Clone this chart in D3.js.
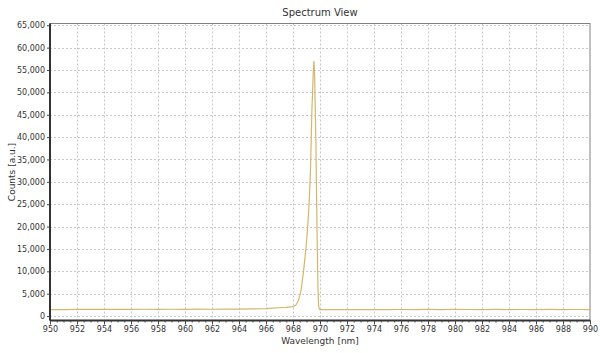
<!DOCTYPE html>
<html>
<head>
<meta charset="utf-8">
<script src="https://cdn.jsdelivr.net/npm/d3@7"></script>
<style>
  body { margin: 0; background: #fff; }
  svg { display: block; font-family: "DejaVu Sans", sans-serif; }
</style>
</head>
<body>
<svg id="chart" width="600" height="353"></svg>
<script>
// spectrum samples (nm, counts)
var wavelength = [950, 951, 952, 953, 954, 955, 956, 957, 958, 959, 960, 961, 962, 963, 964, 965,
  966, 966.5, 967, 967.5, 968, 968.2, 968.4, 968.6, 968.8, 969.0, 969.1, 969.2, 969.3, 969.4,
  969.45, 969.5, 969.55, 969.6, 969.65, 969.7, 969.75, 969.8, 969.85, 969.9, 969.95, 970,
  971, 972, 973, 974, 975, 976, 977, 978, 979, 980, 981, 982, 983, 984, 985, 986, 987, 988, 989, 990];
var counts = [1450, 1420, 1480, 1500, 1470, 1520, 1490, 1510, 1480, 1520, 1500, 1530, 1510, 1540, 1560, 1580,
  1650, 1750, 1850, 1950, 2100, 2400, 3400, 5800, 10500, 16500, 20500, 25500, 33000, 46000,
  50000, 54500, 57000, 54000, 46000, 38000, 26000, 15000, 6000, 2200, 1600, 1450,
  1420, 1440, 1410, 1450, 1430, 1460, 1440, 1470, 1450, 1480, 1460, 1450, 1470, 1440, 1460, 1450, 1470, 1440, 1460, 1450];

var xTicks = d3.range(950, 991, 2);
var xMinor = d3.range(950, 990.01, 0.5);
var yTicks = d3.range(0, 65001, 5000);

var svg = d3.select("#chart");
var plotL = 50, plotR = 590, plotT = 23.5, plotB = 320.5;

var x = d3.scaleLinear().domain([950, 990]).range([plotL, plotR]);
var y = d3.scaleLinear().domain([-1000, 65400]).range([plotB, plotT]);

// grid
svg.append("g").selectAll("line").data(xTicks.slice(1, -1)).enter().append("line")
  .attr("x1", d => Math.round(x(d)) + 0.5).attr("x2", d => Math.round(x(d)) + 0.5)
  .attr("y1", plotT).attr("y2", plotB)
  .style("stroke", "#c8c8c8").style("stroke-dasharray", "2,2");
svg.append("g").selectAll("line").data(yTicks).enter().append("line")
  .attr("y1", d => Math.round(y(d)) + 0.5).attr("y2", d => Math.round(y(d)) + 0.5)
  .attr("x1", plotL).attr("x2", plotR)
  .style("stroke", "#c8c8c8").style("stroke-dasharray", "2,2");

// frame
svg.append("rect").attr("x", plotL).attr("y", plotT).attr("width", plotR - plotL).attr("height", plotB - plotT)
  .style("fill", "none").style("stroke", "#808080");

// spectrum
var line = d3.line().x((d, i) => x(wavelength[i])).y(d => y(d));
svg.append("path").datum(counts).attr("d", line)
  .style("fill", "none").style("stroke", "#d4b76c").style("stroke-width", 1.2);

// x axis
var xAxis = svg.append("g").attr("transform", "translate(0," + plotB + ")")
  .call(d3.axisBottom(x).tickValues(xTicks).tickSize(4).tickPadding(2).tickFormat(d3.format("d")));
svg.append("g").attr("class", "minor").attr("transform", "translate(0," + plotB + ")")
  .call(d3.axisBottom(x).tickValues(xMinor).tickSize(2).tickFormat(""))
  .select(".domain").remove();

// y axis
var yAxis = svg.append("g").attr("transform", "translate(" + plotL + ",0)")
  .call(d3.axisLeft(y).tickValues(yTicks).tickSize(3).tickPadding(2).tickFormat(d3.format(",")));

svg.selectAll(".tick line").style("stroke", "#444");
svg.selectAll(".domain").style("stroke", "#333").style("stroke-width", 2);
xAxis.select(".domain").attr("d", "M" + plotL + ",0H" + plotR);
yAxis.select(".domain").attr("d", "M0," + plotB + "V" + plotT);
svg.selectAll(".tick text").style("font-size", "8px").style("fill", "#333").style("font-family", "DejaVu Sans");

// titles
svg.append("text").attr("x", (plotL + plotR) / 2).attr("y", 16).attr("text-anchor", "middle")
  .style("font-size", "10px").style("fill", "#333").text("Spectrum View");
svg.append("text").attr("x", (plotL + plotR) / 2).attr("y", 344).attr("text-anchor", "middle")
  .style("font-size", "9px").style("fill", "#333").text("Wavelength [nm]");
svg.append("text").attr("transform", "translate(15," + ((plotT + plotB) / 2) + ") rotate(-90)")
  .attr("text-anchor", "middle").style("font-size", "9px").style("fill", "#333").text("Counts [a.u.]");
</script>
</body>
</html>
